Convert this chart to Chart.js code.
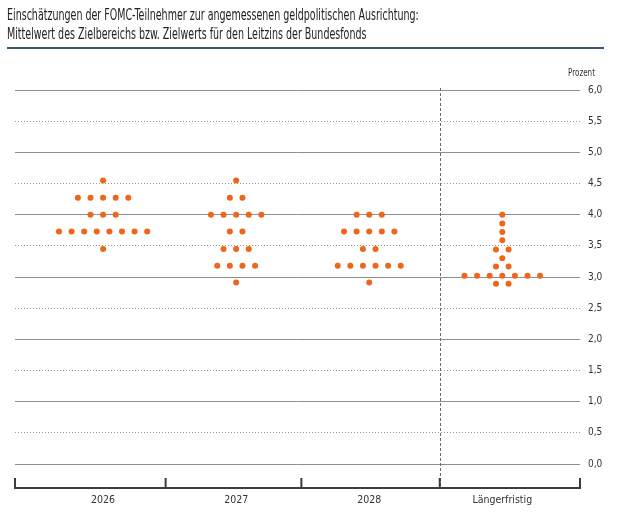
<!DOCTYPE html>
<html>
<head>
<meta charset="utf-8">
<script src="https://cdn.jsdelivr.net/npm/chart.js@4.4.1/dist/chart.umd.min.js"></script>
<style>
  html, body { margin: 0; padding: 0; background: #ffffff; }
  #wrap { position: relative; width: 622px; height: 521px; overflow: hidden; }
  #title { position: absolute; left: 7px; top: 6px; font-family: "Liberation Sans Narrow", "DejaVu Sans Condensed", "Roboto", sans-serif; font-size: 15px; line-height: 19px; color: #222; white-space: nowrap; transform: scaleX(0.705); transform-origin: 0 0; }
  #rule { position: absolute; left: 7px; top: 47px; width: 597px; height: 2px; background: #3b5670; }
  #unit { position: absolute; left: 568px; top: 67px; font-family: "Liberation Sans Narrow", "DejaVu Sans Condensed", "Roboto", sans-serif; font-size: 10px; color: #333; transform: scaleX(0.8); transform-origin: 0 0; }
  canvas { position: absolute; left: 0; top: 0; }
</style>
</head>
<body>
<div id="wrap">
  <canvas id="c" width="622" height="521"></canvas>
  <div id="title">Einschätzungen der FOMC-Teilnehmer zur angemessenen geldpolitischen Ausrichtung:<br>Mittelwert des Zielbereichs bzw. Zielwerts für den Leitzins der Bundesfonds</div>
  <div id="rule"></div>
  <div id="unit">Prozent</div>
</div>
<script>
// ---- data ----
const categories = ['2026', '2027', '2028', 'Längerfristig'];

const levels2026 = [4.55, 4.27, 4.0, 3.73, 3.45];
const counts2026 = [1, 5, 3, 8, 1];

const levels2027 = [4.55, 4.27, 4.0, 3.73, 3.45, 3.18, 2.91];
const counts2027 = [1, 2, 5, 2, 3, 4, 1];

const levels2028 = [4.0, 3.73, 3.45, 3.18, 2.91];
const counts2028 = [3, 5, 2, 6, 1];

const levelsLonger = [4.0, 3.86, 3.72, 3.59, 3.44, 3.30, 3.17, 3.02, 2.89];
const countsLonger = [1, 1, 1, 1, 2, 1, 2, 7, 2];

const yTicks = [0, 0.5, 1, 1.5, 2, 2.5, 3, 3.5, 4, 4.5, 5, 5.5, 6];

// ---- layout / style ----
const FONT = '"Liberation Sans Narrow", "DejaVu Sans Condensed", "Roboto", sans-serif';
const DOT_STEP = 0.0947;
const X_MIN = -0.662, X_MAX = 3.584;
const BOUNDS = [0.47, 1.49, 2.53];
const DOT_COLOR = '#ec661c';

const groups = [
  [levels2026, counts2026],
  [levels2027, counts2027],
  [levels2028, counts2028],
  [levelsLonger, countsLonger]
];
const points = [];
groups.forEach(([levels, counts], ci) => {
  levels.forEach((lv, j) => {
    const n = counts[j];
    for (let k = 0; k < n; k++) {
      points.push({ x: ci + (k - (n - 1) / 2) * DOT_STEP, y: lv });
    }
  });
});

const frame = {
  id: 'frame',
  afterDraw(chart) {
    const { ctx, chartArea, scales: { x, y } } = chart;
    ctx.save();
    const xd = Math.round(x.getPixelForValue(BOUNDS[2])) + 0.5;
    ctx.strokeStyle = '#6a6a6a';
    ctx.lineWidth = 1;
    ctx.setLineDash([3, 2]);
    ctx.beginPath();
    ctx.moveTo(xd, y.getPixelForValue(6) - 2);
    ctx.lineTo(xd, chartArea.bottom);
    ctx.stroke();
    ctx.setLineDash([]);
    ctx.strokeStyle = '#3d3d3d';
    ctx.lineWidth = 2;
    ctx.beginPath();
    ctx.moveTo(chartArea.left - 1, chartArea.bottom);
    ctx.lineTo(chartArea.right + 1, chartArea.bottom);
    [X_MIN, ...BOUNDS, X_MAX].forEach(b => {
      const px = x.getPixelForValue(b);
      ctx.moveTo(px, chartArea.bottom + 1);
      ctx.lineTo(px, chartArea.bottom - 10);
    });
    ctx.stroke();
    ctx.restore();
  }
};

new Chart(document.getElementById('c'), {
  type: 'scatter',
  data: {
    datasets: [{
      data: points,
      pointRadius: 3,
      pointHoverRadius: 3,
      pointBackgroundColor: DOT_COLOR,
      pointBorderWidth: 0,
      clip: false
    }]
  },
  options: {
    responsive: false,
    animation: false,
    events: [],
    layout: { padding: { left: 15, top: 90, right: 0, bottom: 15 } },
    plugins: { legend: { display: false }, tooltip: { enabled: false } },
    scales: {
      x: {
        type: 'linear',
        min: X_MIN,
        max: X_MAX,
        afterBuildTicks: s => { s.ticks = categories.map((c, i) => ({ value: i })); },
        afterFit: s => { s.height = 18; },
        grid: { display: false, drawTicks: false },
        border: { display: false },
        ticks: {
          autoSkip: false,
          maxRotation: 0,
          padding: 6,
          color: '#333',
          font: { family: FONT, size: 10.5 },
          callback: v => categories[Math.round(v)]
        }
      },
      y: {
        position: 'right',
        min: -0.385,
        max: 6,
        afterBuildTicks: s => { s.ticks = yTicks.map(v => ({ value: v })); },
        afterFit: s => { s.width = 42; },
        grid: {
          drawTicks: false,
          lineWidth: 1,
          color: c => (c.tick && Math.abs(c.tick.value % 1) < 1e-9) ? '#8f8f8f' : '#9a9a9a'
        },
        border: {
          display: false,
          dash: c => (c.tick && Math.abs(c.tick.value % 1) > 1e-9) ? [1, 2] : []
        },
        ticks: {
          padding: 8,
          color: '#333',
          font: { family: FONT, size: 10 },
          callback: v => v.toFixed(1).replace('.', ',')
        }
      }
    }
  },
  plugins: [frame]
});
</script>
</body>
</html>
